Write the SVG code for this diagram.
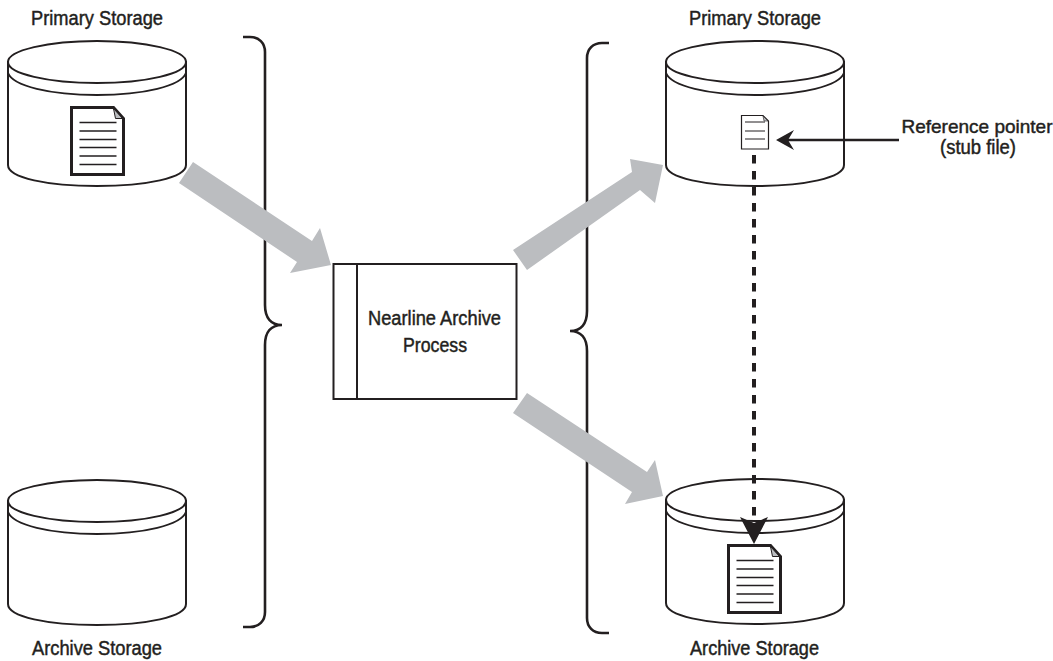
<svg xmlns="http://www.w3.org/2000/svg" width="1053" height="661" viewBox="0 0 1053 661">
<style>
.l{fill:none;stroke:#231f20;stroke-width:2}
.b{fill:none;stroke:#231f20;stroke-width:2.6}
.c{fill:#fff;stroke:#231f20;stroke-width:2}
.a{fill:#bbbdc0}
.f{fill:#fff;stroke:#231f20;stroke-width:3}
.t{fill:#231f20;font-family:"Liberation Sans",Arial,sans-serif;font-size:20px;text-anchor:middle;stroke:#231f20;stroke-width:.45}
.h{stroke:#231f20;stroke-width:1.4;fill:none}
</style>
<defs>
<g id="cyl">
<path class="c" d="M0 21V124C0 137 40 145 89 145S178 137 178 124V21Z"/>
<path class="l" d="M0 21V32C5 45 42 54 89 54S173 45 178 32V21"/>
<ellipse class="c" cx="89" cy="21" rx="89" ry="21"/>
</g>
<g id="doc">
<path class="f" d="M0 0H42L52 11V67H0Z"/>
<path d="M42 1L51 11H44Z" fill="#bbbdc0" stroke="#231f20" stroke-width="1"/>
<path class="h" d="M8 15H45M8 23.500H45M8 32H45M8 40H45M8 48.500H45M8 57H45"/>
</g>
</defs>
<g id="connectors">
<path class="b" d="M243 37H250C259 37 265 43 265 52V305C265 318 271 325 282 325C271 325 265 332 265 345V612C265 621 259 627 250 627H243"/>
<path class="b" d="M609 43H602C593 43 587 49 587 58V311C587 324 581 331 570 331C581 331 587 338 587 351V618C587 627 593 633 602 633H609"/>
<path class="a" d="M193 162L312 241L320 228L331 265L290 273L297 262L179 183Z"/>
<path class="a" d="M513 250L632 172L630 159L663 165L655 203L640 190L527 270Z"/>
<path class="a" d="M527 393L647 472L655 460L663 496L625 504L632 492L513 413Z"/>
</g>
<g id="primary-left">
<use href="#cyl" x="8" y="41"/>
<use href="#doc" x="71.500" y="107.500"/>
<text class="t" x="97" y="25" textLength="132" lengthAdjust="spacingAndGlyphs">Primary Storage</text>
</g>
<g id="archive-left">
<use href="#cyl" x="8" y="480"/>
<text class="t" x="97" y="655" textLength="130" lengthAdjust="spacingAndGlyphs">Archive Storage</text>
</g>
<g id="process">
<rect class="c" x="333.500" y="264" width="183" height="135"/>
<path class="l" d="M357 264V399"/>
<text class="t" x="434.500" y="325" textLength="133" lengthAdjust="spacingAndGlyphs">Nearline Archive</text>
<text class="t" x="435" y="352" textLength="64" lengthAdjust="spacingAndGlyphs">Process</text>
</g>
<g id="primary-right">
<use href="#cyl" x="666" y="41"/>
<path d="M741.500 115.500H763L768.500 121V149H741.500Z" fill="#fff" stroke="#231f20" stroke-width="1.200"/>
<path d="M763 116L768 121H764Z" fill="#bbbdc0" stroke="#231f20" stroke-width=".6"/>
<path d="M745 122H765M745 131H765M745 139H765" fill="none" stroke="#231f20" stroke-width="1"/>
<text class="t" x="755" y="25" textLength="132" lengthAdjust="spacingAndGlyphs">Primary Storage</text>
</g>
<g id="archive-right">
<use href="#cyl" x="666" y="479"/>
<use href="#doc" x="728.500" y="545.500"/>
<text class="t" x="754.500" y="655" textLength="129" lengthAdjust="spacingAndGlyphs">Archive Storage</text>
</g>
<g id="reference-label">
<text class="t" x="977" y="133" style="font-size:19px">Reference pointer</text>
<text class="t" x="978" y="154" textLength="76" lengthAdjust="spacingAndGlyphs">(stub file)</text>
</g>
<g id="pointers">
<path d="M899 140H785" stroke="#231f20" stroke-width="2.400" fill="none"/>
<path d="M776 140L794 130L788 140L794 150Z" fill="#231f20"/>
<path d="M754 155V520" stroke="#231f20" stroke-width="4" stroke-dasharray="8.500 7.500" fill="none"/>
<path d="M754 544L740 517L754 523L768 517Z" fill="#231f20"/>
</g>
</svg>
